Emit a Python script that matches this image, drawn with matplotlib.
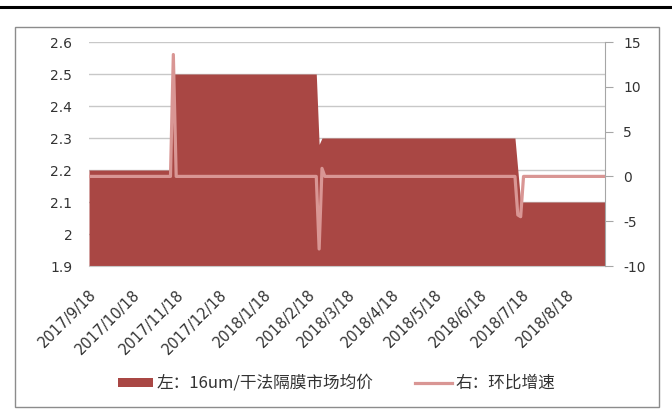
import matplotlib
matplotlib.use("Agg")
import matplotlib.pyplot as plt
import pandas as pd
from matplotlib.patches import Rectangle
from matplotlib.lines import Line2D

plt.rcParams['font.family'] = ['DejaVu Sans', 'Noto Sans CJK SC']
plt.rcParams['axes.unicode_minus'] = False

# price (left axis)
price_dates = ["2017-09-18", "2017-11-14", "2017-11-16", "2018-02-24", "2018-02-26",
               "2018-02-28", "2018-07-13", "2018-07-15", "2018-07-17", "2018-09-14"]
price_values = [2.2, 2.2, 2.5, 2.5, 2.28, 2.3, 2.3, 2.2, 2.1, 2.1]

# month-on-month growth, % (right axis)
growth_dates = ["2017-09-18", "2017-11-14", "2017-11-16", "2017-11-18",
                "2018-02-24", "2018-02-26", "2018-02-28", "2018-03-02",
                "2018-07-13", "2018-07-15", "2018-07-17", "2018-07-19", "2018-09-14"]
growth_values = [0, 0, 13.6, 0, 0, -8.1, 0.9, 0, 0, -4.3, -4.5, 0, 0]

tick_dates = ["2017-09-18", "2017-10-18", "2017-11-18", "2017-12-18", "2018-01-18",
              "2018-02-18", "2018-03-18", "2018-04-18", "2018-05-18", "2018-06-18",
              "2018-07-18", "2018-08-18"]
tick_labels = ["2017/9/18", "2017/10/18", "2017/11/18", "2017/12/18", "2018/1/18",
               "2018/2/18", "2018/3/18", "2018/4/18", "2018/5/18", "2018/6/18",
               "2018/7/18", "2018/8/18"]

left_ticks = [1.9, 2.0, 2.1, 2.2, 2.3, 2.4, 2.5, 2.6]
left_tick_labels = ["1.9", "2", "2.1", "2.2", "2.3", "2.4", "2.5", "2.6"]
right_ticks = [-10, -5, 0, 5, 10, 15]

legend_labels = ["左：16um/干法隔膜市场均价", "右：环比增速"]

area_color = "#A94744"
line_color = "#D99694"
grid_color = "#C8C8C8"
text_color = "#333333"

W, H = 672, 419
fig = plt.figure(figsize=(W / 100, H / 100), dpi=100)

def fx(px):
    return px / W

def fy(py):
    return 1 - py / H

# top black rule and outer frame
fig.add_artist(Line2D([0, 1], [fy(7), fy(7)], color="black", lw=2.2, transform=fig.transFigure))
fig.add_artist(Rectangle((fx(15), fy(407)), fx(659) - fx(15), fy(27) - fy(407),
                         transform=fig.transFigure, fill=False, edgecolor="#8C8C8C", lw=1.0))

ax = fig.add_axes([fx(89), fy(266), fx(605) - fx(89), fy(42) - fy(266)])
pd_price = pd.to_datetime(price_dates)
pd_growth = pd.to_datetime(growth_dates)

ax.fill_between(pd_price, price_values, 1.9, color=area_color, lw=0, zorder=2)
ax.set_ylim(1.9, 2.6)
ax.set_yticks(left_ticks)
ax.set_yticklabels(left_tick_labels)
ax.set_xlim(pd_price[0], pd_price[-1])
ax.grid(axis="y", color=grid_color, lw=1.0, zorder=0)
ax.set_axisbelow(True)
for s in ["top", "left", "right"]:
    ax.spines[s].set_visible(False)
ax.spines["bottom"].set_color(grid_color)
ax.tick_params(axis="y", length=0, labelsize=10, labelcolor=text_color, pad=12)
ax.set_xticks(pd.to_datetime(tick_dates))
ax.set_xticklabels(tick_labels, rotation=45, ha="right", va="top", rotation_mode="anchor")
ax.tick_params(axis="x", length=0, labelsize=10.5, labelcolor=text_color, pad=15)

ax2 = ax.twinx()
ax2.plot(pd_growth, growth_values, color=line_color, lw=2.3, zorder=3, solid_joinstyle="round")
ax2.set_ylim(-10, 15)
ax2.set_yticks(right_ticks)
for s in ["top", "left", "bottom"]:
    ax2.spines[s].set_visible(False)
ax2.spines["right"].set_color("#A6A6A6")
ax2.tick_params(axis="y", length=6, color="#A6A6A6", direction="out", labelsize=10,
                labelcolor=text_color, pad=7)
ax2.set_xlim(pd_price[0], pd_price[-1])

# legend built by hand (below the plot)
ly = 383
leg_font = ['Noto Sans CJK SC', 'DejaVu Sans']
fig.add_artist(Rectangle((fx(118), fy(387)), fx(153) - fx(118), fy(378) - fy(387),
                         transform=fig.transFigure, color=area_color, lw=0))
fig.text(fx(157), fy(ly), legend_labels[0], fontsize=12, family=leg_font,
         color=text_color, va="center", ha="left")
fig.add_artist(Line2D([fx(415), fx(452)], [fy(ly), fy(ly)], color=line_color, lw=2.3,
                      transform=fig.transFigure))
fig.text(fx(455), fy(ly), legend_labels[1], fontsize=12, family=leg_font,
         color=text_color, va="center", ha="left")

fig.savefig("out.png", dpi=100)
